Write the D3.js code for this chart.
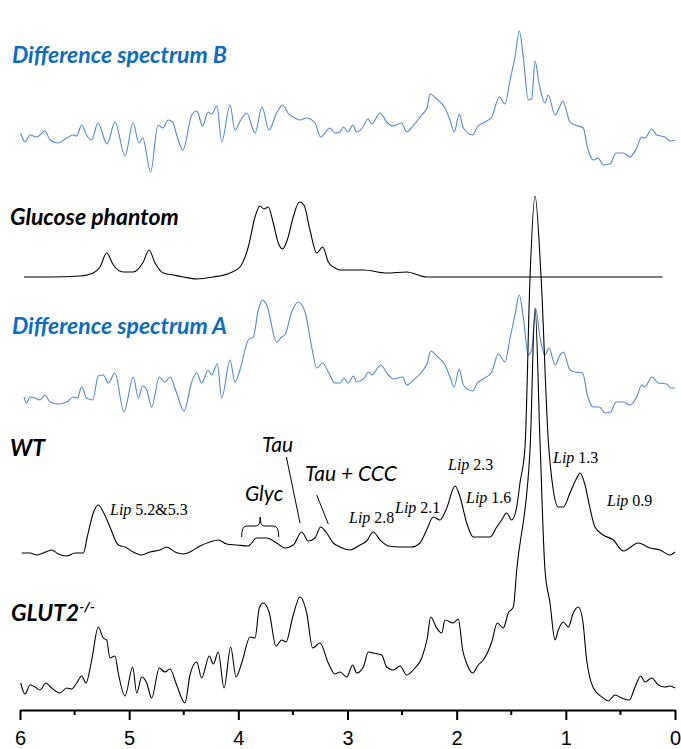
<!DOCTYPE html>
<html>
<head>
<meta charset="utf-8">
<script src="https://cdn.jsdelivr.net/npm/d3@7"></script>
<style>
  body { margin: 0; background: #fff; }
  svg { display: block; }
</style>
</head>
<body>
<svg id="chart" width="681" height="749"></svg>
<script>
// chemical shift (ppm) and intensity (a.u.)
const diffB_ppm = [5.994,5.954,5.908,5.847,5.771,5.725,5.652,5.572,5.515,5.481,5.435,5.386,5.343,5.286,5.203,5.130,5.038,4.965,4.910,4.876,4.803,4.736,4.690,4.644,4.601,4.565,4.507,4.427,4.381,4.327,4.278,4.244,4.196,4.152,4.076,4.031,3.978,3.923,3.847,3.783,3.719,3.649,3.594,3.545,3.499,3.435,3.374,3.298,3.246,3.160,3.115,3.069,3.038,2.995,2.952,2.916,2.858,2.812,2.778,2.702,2.641,2.583,2.504,2.458,2.400,2.320,2.272,2.244,2.183,2.107,2.061,2.022,1.976,1.939,1.853,1.811,1.756,1.679,1.609,1.557,1.511,1.466,1.426,1.390,1.344,1.313,1.282,1.246,1.191,1.161,1.099,1.053,1.029,0.962,0.916,0.840,0.803,0.748,0.703,0.657,0.595,0.540,0.474,0.412,0.351,0.305,0.275,0.213,0.168,0.092,0.046,0.000];
const diffB_int = [17,8,15,13,19,10,7,12,15,14,25,14,10,27,6,28,-6,27,7,12,-22,25,22,30,28,15,0,35,39,24,38,36,44,8,45,20,30,37,17,43,20,37,45,37,33,30,32,27,13,22,17,18,23,18,25,18,23,31,26,37,28,24,27,18,24,35,42,56,51,42,30,18,36,22,15,23,27,33,53,46,70,93,119,93,50,51,89,67,47,55,35,44,49,28,25,22,3,-10,-8,-15,-14,-3,-3,-7,2,13,12,21,15,13,9,10];

const phantom_ppm = [5.963,5.725,5.450,5.329,5.267,5.206,5.145,5.054,4.962,4.871,4.818,4.763,4.687,4.596,4.504,4.381,4.229,4.076,3.985,3.909,3.847,3.802,3.765,3.726,3.680,3.634,3.594,3.552,3.497,3.442,3.399,3.344,3.282,3.227,3.176,3.115,3.069,2.855,2.641,2.458,2.275,1.848,1.390,0.932,0.474,0.113];
const phantom_int = [0,0,1,4,10,24,12,5,5,15,27,14,4,2,0,-2,0,4,10,30,60,71,68,70,54,34,28,37,60,75,72,47,24,30,15,9,7,7,4,5,0,0,0,0,0,0];

const diffA_ppm = [5.963,5.939,5.908,5.863,5.817,5.771,5.725,5.649,5.572,5.512,5.475,5.435,5.389,5.334,5.283,5.237,5.191,5.130,5.048,4.962,4.916,4.876,4.839,4.794,4.724,4.672,4.626,4.565,4.498,4.427,4.381,4.336,4.275,4.244,4.193,4.152,4.076,4.031,3.985,3.909,3.863,3.817,3.777,3.740,3.649,3.603,3.573,3.511,3.451,3.389,3.328,3.282,3.227,3.176,3.115,3.069,3.032,2.993,2.947,2.916,2.840,2.809,2.778,2.696,2.626,2.580,2.494,2.458,2.397,2.306,2.269,2.238,2.183,2.107,2.061,2.024,1.976,1.939,1.853,1.811,1.756,1.679,1.619,1.557,1.511,1.466,1.426,1.390,1.344,1.313,1.276,1.237,1.191,1.154,1.099,1.053,1.023,0.962,0.916,0.846,0.803,0.748,0.693,0.641,0.589,0.540,0.474,0.412,0.351,0.305,0.275,0.213,0.153,0.076,0.039,0.000];
const diffA_int = [3,-3,3,2,0,5,-2,-4,-2,3,2,13,2,0,24,25,17,27,-12,23,2,14,10,-7,23,18,23,7,-11,18,27,17,30,25,36,2,40,18,30,60,63,90,100,95,58,63,65,88,98,88,53,32,37,28,17,17,22,17,24,18,23,28,25,35,25,21,23,15,20,30,37,49,44,35,23,13,31,15,9,17,21,28,46,38,62,85,105,83,45,50,91,63,45,52,35,45,48,30,28,27,5,-7,-7,-13,-12,-2,-2,-5,3,15,13,23,17,16,12,12];

const wt_ppm = [5.984,5.908,5.847,5.787,5.710,5.649,5.572,5.496,5.420,5.384,5.329,5.283,5.237,5.176,5.099,5.038,4.962,4.885,4.809,4.718,4.656,4.580,4.504,4.427,4.351,4.260,4.184,4.107,4.015,3.909,3.832,3.740,3.649,3.573,3.497,3.420,3.359,3.298,3.246,3.191,3.130,3.069,2.977,2.885,2.824,2.764,2.702,2.626,2.519,2.412,2.336,2.275,2.214,2.153,2.091,2.015,1.969,1.908,1.848,1.695,1.633,1.588,1.542,1.496,1.450,1.420,1.374,1.328,1.282,1.227,1.161,1.115,1.069,1.023,0.962,0.900,0.870,0.824,0.785,0.733,0.657,0.565,0.474,0.336,0.229,0.137,0.046,0.000];
const wt_int = [-3,-3,-5,-3,0,-4,-6,-3,-3,13,37,45,38,23,5,3,-2,-5,-2,0,3,-2,-4,-1,4,8,10,6,5,4,12,12,7,2,5,18,9,12,23,17,7,3,0,5,9,18,10,4,3,3,7,20,33,30,42,64,53,27,13,13,23,30,37,30,43,67,103,273,354,273,110,60,43,43,57,72,77,65,45,23,15,10,-1,7,2,0,-5,-2];

const glut2_ppm = [5.994,5.954,5.908,5.863,5.817,5.762,5.710,5.634,5.572,5.527,5.481,5.435,5.395,5.343,5.283,5.237,5.206,5.176,5.130,5.100,5.038,4.968,4.931,4.885,4.839,4.794,4.724,4.672,4.626,4.565,4.489,4.443,4.381,4.336,4.266,4.229,4.184,4.131,4.070,4.021,3.969,3.893,3.847,3.808,3.771,3.716,3.655,3.603,3.563,3.502,3.435,3.374,3.319,3.252,3.176,3.115,3.069,3.007,2.952,2.916,2.855,2.809,2.764,2.687,2.641,2.580,2.519,2.458,2.382,2.320,2.269,2.238,2.183,2.137,2.107,2.031,1.985,1.945,1.903,1.853,1.802,1.756,1.679,1.628,1.573,1.527,1.481,1.450,1.328,1.282,1.237,1.191,1.145,1.099,1.069,1.023,0.977,0.932,0.886,0.846,0.809,0.748,0.657,0.611,0.550,0.488,0.419,0.366,0.314,0.275,0.213,0.153,0.092,0.046,0.000];
const glut2_int = [7,-4,5,3,0,7,2,-3,2,1,7,14,7,30,63,52,50,32,34,17,-6,23,-3,13,7,-8,22,18,21,5,-13,15,28,12,34,26,38,2,43,13,27,53,52,82,87,77,44,50,48,73,93,77,42,47,27,16,18,13,25,17,23,38,37,35,23,20,24,15,22,32,52,73,62,57,70,67,71,40,25,17,25,30,48,67,62,77,83,120,240,382,250,120,87,50,60,68,63,77,83,70,30,2,-8,-11,-5,-8,-10,3,14,8,12,5,3,4,2];

const tickValues = [6, 5, 4, 3, 2, 1, 0];
const minorTickValues = [5.5, 4.5, 3.5, 2.5, 1.5, 0.5];

const blueLine = "#4f87d6";
const blueText = "#0b6cc0";

const svg = d3.select("#chart");

const x = d3.scaleLinear().domain([6, 0]).range([20, 675]);
const y = d3.scaleLinear().domain([0, 100]).range([0, -100]);

const spectra = [
	{ppm: diffB_ppm, val: diffB_int, base: 150, color: blueLine},
	{ppm: phantom_ppm, val: phantom_int, base: 277, color: "#000"},
	{ppm: diffA_ppm, val: diffA_int, base: 400, color: blueLine},
	{ppm: wt_ppm, val: wt_int, base: 550, color: "#000"},
	{ppm: glut2_ppm, val: glut2_int, base: 690, color: "#000"}
];

const line = d3.line()
	.x(d => x(d[0]))
	.y(d => y(d[1]))
	.curve(d3.curveMonotoneX);

spectra.forEach(s => {
	const pts = s.ppm.map((p, i) => [p, s.val[i]]);
	svg.append("g")
		.attr("transform", "translate(0," + s.base + ")")
		.append("path")
		.attr("d", line(pts))
		.attr("fill", "none")
		.attr("stroke", s.color)
		.attr("stroke-width", 1.1)
		.attr("stroke-linejoin", "round");
});

// x axis
const axisY = 710;
const axis = svg.append("g")
	.attr("transform", "translate(0," + axisY + ")")
	.call(d3.axisBottom(x).tickValues(tickValues).tickFormat(d3.format("d"))
		.tickSize(10).tickSizeOuter(0).tickPadding(11));
axis.select(".domain").attr("stroke-width", 2);
axis.selectAll(".tick line").attr("stroke-width", 2);
axis.selectAll(".tick text")
	.attr("font-family", "Liberation Sans, Arial, sans-serif")
	.attr("font-size", 20)
	.attr("fill", "#000");

svg.append("g")
	.attr("transform", "translate(0," + axisY + ")")
	.selectAll("line")
	.data(minorTickValues)
	.enter().append("line")
	.attr("x1", d => x(d)).attr("x2", d => x(d))
	.attr("y1", 0).attr("y2", 5)
	.attr("stroke", "#000")
	.attr("stroke-width", 2);

// trace titles
const titleFont = "Lato, 'Open Sans', sans-serif";
function title(tx, ty, txt, color) {
	return svg.append("text")
		.attr("x", tx).attr("y", ty)
		.attr("font-family", titleFont)
		.attr("font-size", 23)
		.attr("font-weight", "bold")
		.attr("font-style", "italic")
		.attr("fill", color)
		.text(txt);
}
title(12, 63, "Difference spectrum B", blueText);
title(10, 225, "Glucose phantom", "#000");
title(12, 334, "Difference spectrum A", blueText);
title(10, 456, "WT", "#000");
const g2 = title(11, 621, "GLUT2", "#000");
g2.append("tspan").attr("font-size", 14).attr("dy", -9).text("-/-");

// metabolite annotations
function italicLabel(tx, ty, txt) {
	svg.append("text")
		.attr("x", tx).attr("y", ty)
		.attr("font-family", titleFont)
		.attr("font-size", 21)
		.attr("font-style", "italic")
		.attr("fill", "#000")
		.text(txt);
}
italicLabel(262, 452, "Tau");
italicLabel(245, 501, "Glyc");
italicLabel(305, 481, "Tau + CCC");

const lipLabels = [
	[110, 515, "5.2&5.3"],
	[349, 523, "2.8"],
	[395, 513, "2.1"],
	[448, 470, "2.3"],
	[466, 503, "1.6"],
	[553, 463, "1.3"],
	[607, 506, "0.9"]
];
lipLabels.forEach(l => {
	const t = svg.append("text")
		.attr("x", l[0]).attr("y", l[1])
		.attr("font-family", "'Liberation Serif', 'DejaVu Serif', serif")
		.attr("font-size", 16)
		.attr("fill", "#000");
	t.append("tspan").attr("font-style", "italic").text("Lip");
	t.append("tspan").text(" " + l[2]);
});

// pointer lines for Tau peaks
const pointers = [[3.56, 457, 3.435, 523], [3.282, 495, 3.176, 524]];
pointers.forEach(p => {
	svg.append("line")
		.attr("x1", x(p[0])).attr("y1", p[1])
		.attr("x2", x(p[2])).attr("y2", p[3])
		.attr("stroke", "#000").attr("stroke-width", 1);
});

// brace over Glyc region
const bl = x(3.97), br = x(3.63), bm = x(3.80);
const bTop = 517, bMid = 526, bBot = 537;
svg.append("path")
	.attr("d", "M" + bl + "," + bBot +
		" Q" + bl + "," + bMid + " " + (bl + 5) + "," + bMid +
		" L" + (bm - 4) + "," + bMid +
		" Q" + bm + "," + bMid + " " + bm + "," + bTop +
		" Q" + bm + "," + bMid + " " + (bm + 4) + "," + bMid +
		" L" + (br - 5) + "," + bMid +
		" Q" + br + "," + bMid + " " + br + "," + bBot)
	.attr("fill", "none")
	.attr("stroke", "#000")
	.attr("stroke-width", 1);
</script>
</body>
</html>
